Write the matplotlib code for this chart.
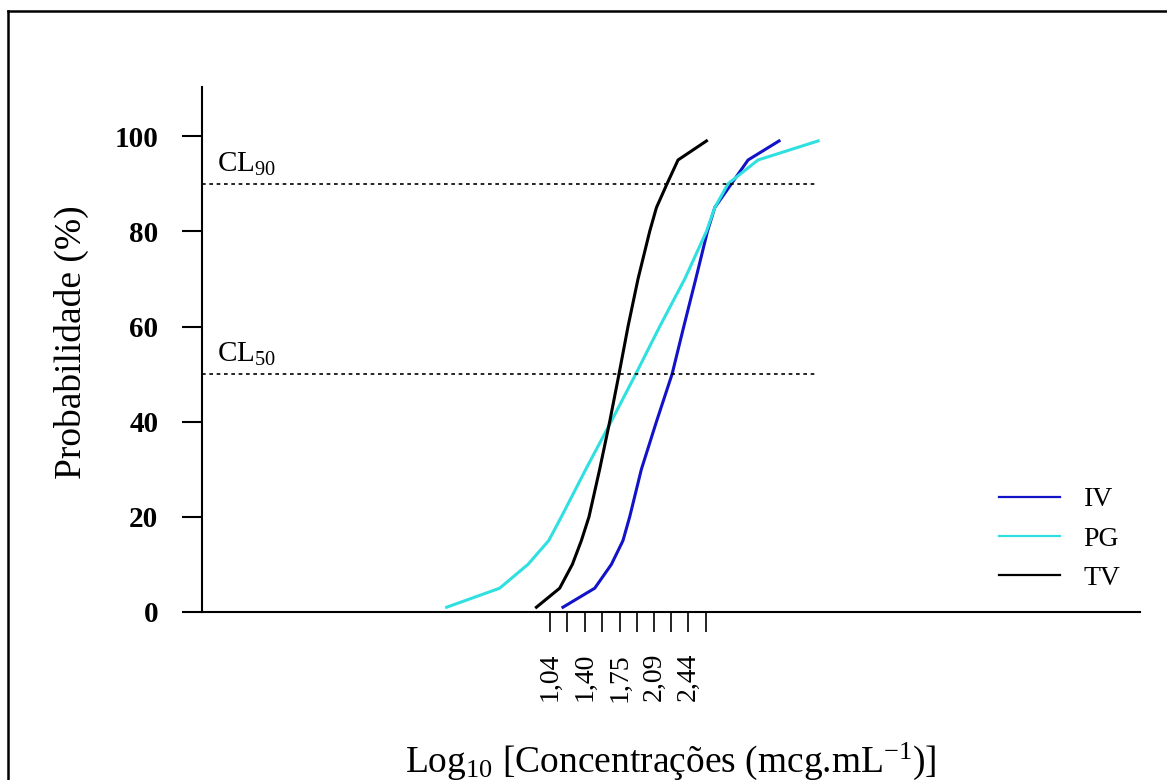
import numpy as np
import matplotlib
matplotlib.use("Agg")
import matplotlib.pyplot as plt
from matplotlib.lines import Line2D

plt.rcParams['font.family'] = ['Liberation Serif', 'DejaVu Serif']
plt.rcParams['mathtext.fontset'] = 'custom'
plt.rcParams['mathtext.rm'] = 'Liberation Serif'
plt.rcParams['mathtext.it'] = 'Liberation Serif:italic'
plt.rcParams['mathtext.bf'] = 'Liberation Serif:bold'

# probability levels (%) and log10 concentrations
prob = [1, 5, 10, 15, 20, 30, 40, 50, 60, 70, 80, 85, 90, 95, 99]
x_iv = [1.174, 1.495, 1.663, 1.780, 1.848, 1.966, 2.118, 2.276, 2.394, 2.515, 2.633, 2.707, 2.875, 3.043, 3.356]
x_pg = [0.0, 0.535, 0.821, 1.030, 1.158, 1.405, 1.660, 1.909, 2.151, 2.404, 2.623, 2.707, 2.841, 3.144, 3.750]
x_tv = [0.906, 1.141, 1.269, 1.360, 1.437, 1.545, 1.646, 1.740, 1.831, 1.932, 2.050, 2.118, 2.225, 2.336, 2.623]

x_ticks = [1.04, 1.22, 1.40, 1.57, 1.75, 1.92, 2.09, 2.27, 2.44, 2.62]
x_ticklabels = ["1,04", "", "1,40", "", "1,75", "", "2,09", "", "2,44", ""]
y_ticks = [0, 20, 40, 60, 80, 100]
cl_levels = [90, 50]
cl_labels = ["CL$_{90}$", "CL$_{50}$"]
cl_end = 3.72

fig = plt.figure(figsize=(11.67, 7.8), dpi=100)
ax = fig.add_axes([202 / 1167, 1 - 612 / 780, (1140 - 202) / 1167, (612 - 86.7) / 780])

ax.plot(x_iv, prob, color='#1212c8', lw=2.2, label='IV')
ax.plot(x_pg, prob, color='#30e0e0', lw=2.2, label='PG')
ax.plot(x_tv, prob, color='black', lw=2.2, label='TV')

xmin, xmax = -2.47, 7.0
for lev, lab in zip(cl_levels, cl_labels):
    ax.plot([xmin, cl_end], [lev, lev], color='black', lw=1.2, ls=(0, (2.2, 2.2)))
    ax.text(xmin + 0.15, lev + 2.5, lab, fontsize=21, ha='left', va='baseline')

ax.set_xlim(xmin, xmax)
ax.set_ylim(0, 110.4)
ax.spines['top'].set_visible(False)
ax.spines['right'].set_visible(False)
ax.spines['left'].set_linewidth(1.5)
ax.spines['bottom'].set_linewidth(1.5)

ax.set_xticks(x_ticks)
ax.set_xticklabels(x_ticklabels, rotation=90, fontsize=20)
ax.set_yticks(y_ticks)
ax.set_yticklabels([str(v) for v in y_ticks], fontsize=21, fontweight='bold')
ax.tick_params(axis='x', direction='out', length=14.5, width=1.2, pad=15)
ax.tick_params(axis='y', direction='out', length=14.5, width=1.5, pad=17)

leg = ax.legend(loc='upper left', bbox_to_anchor=(985 / 1167, 1 - 473 / 780),
                bbox_transform=fig.transFigure, frameon=False, fontsize=20,
                handlelength=2.2, handletextpad=0.85, labelspacing=0.5, borderpad=0)
for h in leg.legend_handles:
    h.set_linewidth(1.6)

fig.text(71 / 1167, 1 - 342 / 780, "Probabilidade (%)", rotation=90,
         fontsize=27, ha='center', va='center')
fig.text(671 / 1167, 8 / 780,
         r"Log$_{10}$ [Concentrações (mcg.mL$^{-1}$)]",
         fontsize=27, ha='center', va='baseline')

# outer frame (left and top edges visible)
fig.add_artist(Line2D([8 / 1167, 8 / 1167], [0, 1 - 11 / 780], transform=fig.transFigure,
                      color='black', lw=1.8))
fig.add_artist(Line2D([8 / 1167, 1], [1 - 11 / 780, 1 - 11 / 780], transform=fig.transFigure,
                      color='black', lw=1.8))

fig.savefig("out.png", dpi=100)
